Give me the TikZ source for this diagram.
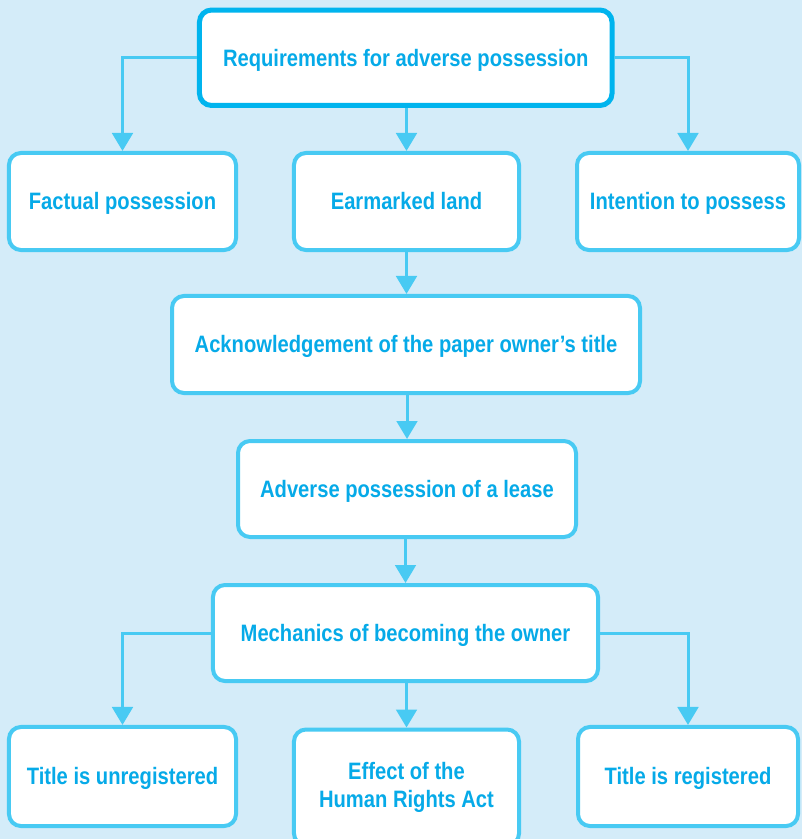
\documentclass[tikz,border=0pt]{standalone}
\usepackage{fontspec}
\setmainfont{Liberation Sans}[FakeStretch=0.85]
\usetikzlibrary{arrows.meta}
\definecolor{bgblue}{HTML}{D4ECF9}
\definecolor{mainline}{HTML}{00B4EE}
\definecolor{boxline}{HTML}{48CAF3}
\definecolor{labelblue}{HTML}{06AAE8}
\tikzset{
  box/.style={draw=boxline, line width=3pt, fill=white, rounded corners=9pt,
    font=\fontsize{17.8}{21}\selectfont\bfseries, text=labelblue, align=center,
    inner sep=0pt, text height=12.7pt, text depth=0pt},
  twoline/.style={text height=, text depth=},
  mainbox/.style={box, draw=mainline, line width=3.75pt},
  link/.style={draw=boxline, line width=2.25pt,
    -{Triangle[width=15.5pt, length=13.5pt]}},
}
\begin{document}
\begin{tikzpicture}[x=0.75pt, y=-0.75pt]
  \fill[bgblue] (0,0) rectangle (802,839);
  \useasboundingbox (0,0) rectangle (802,839);

  % top level
  \node[mainbox, minimum width=309.4pt, minimum height=71.6pt] (top) at (405.75,57.75)
    {Requirements for adverse possession};

  % first row of requirements
  \node[box, minimum width=170.3pt, minimum height=72.8pt] (fact) at (122.5,201.5)
    {Factual possession};
  \node[box, minimum width=168.8pt, minimum height=72.8pt] (ear) at (406.5,201.5)
    {Earmarked land};
  \node[box, minimum width=166.5pt, minimum height=72.8pt] (intent) at (688,201.5)
    {Intention to possess};

  % central column
  \node[box, minimum width=351pt, minimum height=72.8pt] (ack) at (406,344.5)
    {Acknowledgement of the paper owner’s title};
  \node[box, minimum width=253.5pt, minimum height=72pt] (lease) at (407,489)
    {Adverse possession of a lease};
  \node[box, minimum width=288.8pt, minimum height=72pt] (mech) at (405.5,633)
    {Mechanics of becoming the owner};

  % bottom row
  \node[box, minimum width=170.3pt, minimum height=74.3pt] (unreg) at (122.5,776.5)
    {Title is unregistered};
  \node[box, twoline, minimum width=168.8pt, minimum height=87pt] (effect) at (406.5,787.5)
    {Effect of the\\Human Rights Act};
  \node[box, minimum width=165pt, minimum height=74.3pt] (reg) at (688,776.5)
    {Title is registered};

  % connectors
  \draw[link] (top.west) -| (fact.north);
  \draw[link] (top.south -| ear.north) -- (ear.north);
  \draw[link] (top.east) -| (intent.north);
  \draw[link] (ear.south) -- (ack.north -| ear.south);
  \draw[link] (ack.south -| lease.north) -- (lease.north);
  \draw[link] (lease.south -| mech.north) -- (mech.north);
  \draw[link] (mech.west) -| (unreg.north);
  \draw[link] (mech.south -| effect.north) -- (effect.north);
  \draw[link] (mech.east) -| (reg.north);
\end{tikzpicture}
\end{document}
